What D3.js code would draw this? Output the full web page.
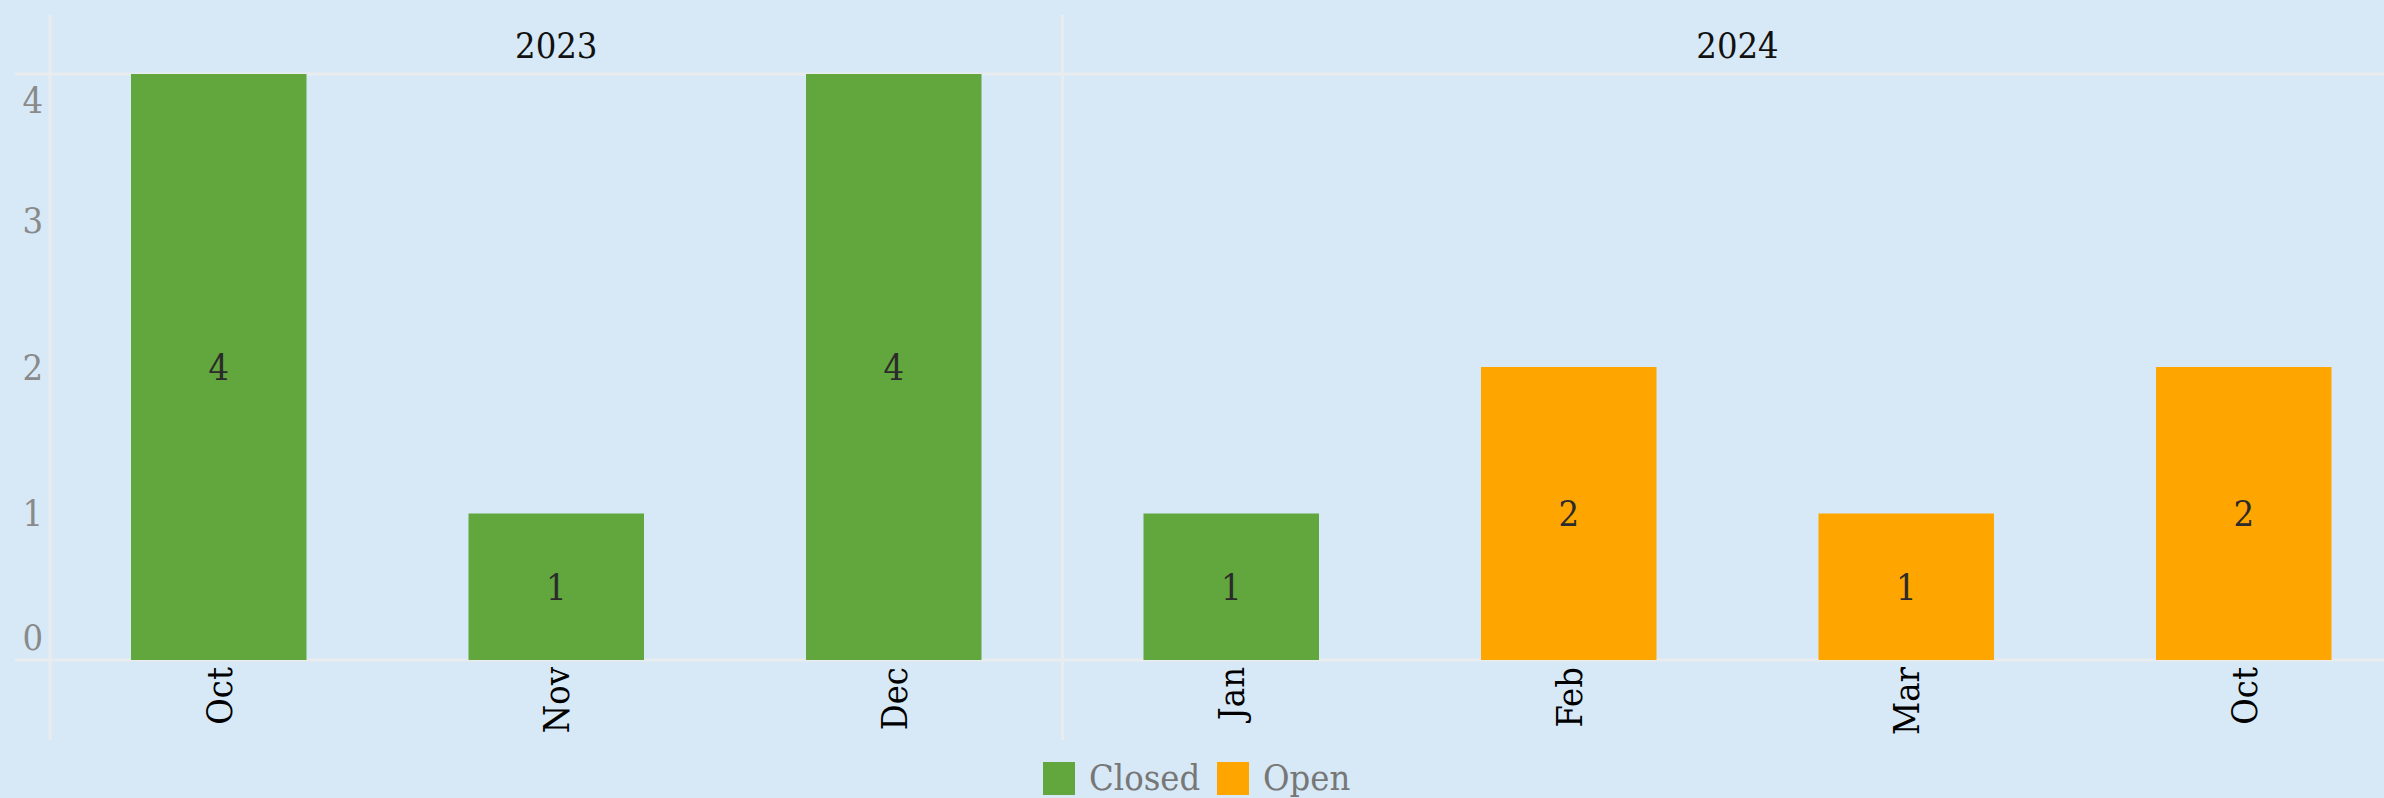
<!DOCTYPE html>
<html>
<head>
<meta charset="utf-8">
<script src="https://cdn.jsdelivr.net/npm/d3@7"></script>
<style>
  body { margin: 0; background: #d7e9f7; }
  svg text { font-family: "DejaVu Serif Condensed", "DejaVu Serif", serif; font-stretch: condensed; }
</style>
</head>
<body>
<svg width="2384" height="798"></svg>
<script>
// chart data
var months = ["Oct", "Nov", "Dec", "Jan", "Feb", "Mar", "Oct"];
var barYears = ["2023", "2023", "2023", "2024", "2024", "2024", "2024"];
var counts = [4, 1, 4, 1, 2, 1, 2];
var barStatus = ["Closed", "Closed", "Closed", "Closed", "Open", "Open", "Open"];
var years = ["2023", "2024"];
var statusNames = ["Closed", "Open"];
var yTicks = [0, 1, 2, 3, 4];

var colors = d3.scaleOrdinal().domain(statusNames).range(["#62a63e", "#ffa500"]);

var svg = d3.select('svg');
svg.append('rect').attr('width', 2384).attr('height', 798).attr('fill', '#d7e9f7');

var idx = d3.range(months.length);
var x = d3.scaleBand().domain(idx).range([50, 50 + 337.5 * 7]).paddingInner(0.48).paddingOuter(0.24);
var y = d3.scaleLinear().domain([0, 4]).range([660, 74]);

var lineColor = '#e9ecef';

// horizontal lines (top of panel, zero line)
svg.selectAll('.hline')
    .data([4, 0])
    .enter()
    .append('line')
    .attr('x1', 15).attr('x2', 2384)
    .attr('y1', function(d){ return y(d); })
    .attr('y2', function(d){ return y(d); })
    .attr('stroke', lineColor)
    .attr('stroke-width', 3);

// year group extents
var groups = years.map(function(yr){
    var ii = idx.filter(function(i){ return barYears[i] == yr; });
    return { year: yr, x0: x(ii[0]) - x.step() * x.paddingInner() / 2, x1: x(ii[ii.length - 1]) + x.bandwidth() + x.step() * x.paddingInner() / 2 };
});

svg.selectAll('.vline')
    .data(groups)
    .enter()
    .append('line')
    .attr('x1', function(d){ return d.x0; })
    .attr('x2', function(d){ return d.x0; })
    .attr('y1', 15).attr('y2', 740)
    .attr('stroke', lineColor)
    .attr('stroke-width', 3);

svg.selectAll('.yearlabel')
    .data(groups)
    .enter()
    .append('text')
    .text(function(d){ return d.year; })
    .attr('x', function(d){ return (d.x0 + d.x1) / 2; })
    .attr('y', 58)
    .attr('text-anchor', 'middle')
    .attr('font-size', 36)
    .attr('fill', '#111');

// bars
svg.selectAll('.bar')
    .data(idx)
    .enter()
    .append('rect')
    .attr('x', function(i){ return x(i); })
    .attr('width', x.bandwidth())
    .attr('y', function(i){ return y(counts[i]); })
    .attr('height', function(i){ return y(0) - y(counts[i]); })
    .attr('fill', function(i){ return colors(barStatus[i]); });

// value labels
svg.selectAll('.val')
    .data(idx)
    .enter()
    .append('text')
    .text(function(i){ return counts[i]; })
    .attr('x', function(i){ return x(i) + x.bandwidth() / 2; })
    .attr('y', function(i){ return (y(counts[i]) + y(0)) / 2; })
    .attr('dy', '0.36em')
    .attr('text-anchor', 'middle')
    .attr('font-size', 36)
    .attr('fill', '#2b2b2b');

// month labels, rotated
svg.selectAll('.month')
    .data(idx)
    .enter()
    .append('text')
    .text(function(i){ return months[i]; })
    .attr('transform', function(i){ return 'translate(' + (x(i) + x.bandwidth() / 2) + ',' + 667 + ')rotate(-90)'; })
    .attr('dy', '0.36em')
    .attr('text-anchor', 'end')
    .attr('font-size', 36)
    .attr('fill', '#000');

// y tick labels (kept inside the panel at the ends)
svg.selectAll('.ytick')
    .data(yTicks)
    .enter()
    .append('text')
    .text(function(d){ return d; })
    .attr('x', 43)
    .attr('y', function(d){ return Math.max(y(4) + 26, Math.min(y(0) - 23, y(d))); })
    .attr('dy', '0.36em')
    .attr('text-anchor', 'end')
    .attr('font-size', 36)
    .attr('fill', '#8a8a8a');

// legend
var legend = svg.append('g').attr('transform', 'translate(1043,762)');
var lx = [0, 174];
statusNames.forEach(function(s, k){
    legend.append('rect').attr('x', lx[k]).attr('y', 0).attr('width', 32).attr('height', 33).attr('fill', colors(s));
    legend.append('text').text(s).attr('x', lx[k] + 46).attr('y', 28).attr('font-size', 36).attr('fill', '#777');
});
</script>
</body>
</html>
